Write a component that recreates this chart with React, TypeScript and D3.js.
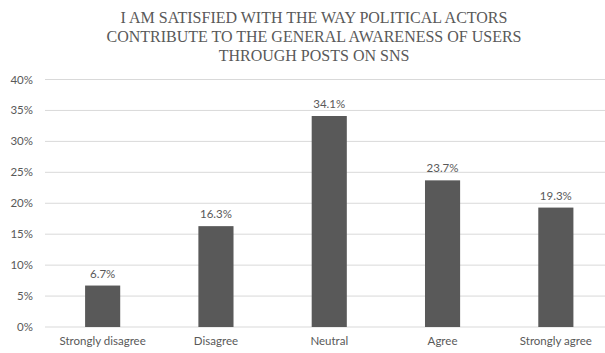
import React from "react";
import * as d3 from "d3";

const categories = ["Strongly disagree", "Disagree", "Neutral", "Agree", "Strongly agree"];
const values = [6.7, 16.3, 34.1, 23.7, 19.3];
const yTicks = [0, 5, 10, 15, 20, 25, 30, 35, 40];
const titleLines = [
  "I AM SATISFIED WITH THE WAY POLITICAL ACTORS",
  "CONTRIBUTE TO THE GENERAL AWARENESS OF USERS",
  "THROUGH POSTS ON SNS",
];

const W = 605;
const H = 353;
const plotLeft = 46;
const plotRight = 612.5;
const plotTop = 79.5;
const plotBottom = 327;

const textColor = "#595959";
const barColor = "#595959";
const gridColor = "#d9d9d9";
const labelFont = "Lato, 'Open Sans', sans-serif";

export default function App() {
  const x = d3
    .scaleBand<string>()
    .domain(categories)
    .range([plotLeft, plotRight])
    .paddingInner(0.69)
    .paddingOuter(0.345);
  const y = d3.scaleLinear().domain([0, 40]).range([plotBottom, plotTop]);

  return (
    <svg
      width={W}
      height={H}
      style={{ position: "absolute", left: 0, top: 0, background: "#fff" }}
    >
      <rect width={W} height={H} fill="#fff" />
      {titleLines.map((t, i) => (
        <text
          key={i}
          x={314}
          y={22.5 + i * 19}
          textAnchor="middle"
          fontFamily="'Liberation Serif', 'Times New Roman', serif"
          fontSize={16}
          fill={textColor}
        >
          {t}
        </text>
      ))}
      {yTicks.map((t) => (
        <g key={t}>
          <line
            x1={plotLeft - 1}
            x2={W}
            y1={y(t)}
            y2={y(t)}
            stroke={gridColor}
            strokeWidth={1}
          />
          <text
            x={33}
            y={y(t) + 4}
            textAnchor="end"
            fontFamily={labelFont}
            fontSize={11.5}
            fill={textColor}
          >
            {t}%
          </text>
        </g>
      ))}
      {categories.map((c, i) => {
        const bx = x(c)!;
        const bw = x.bandwidth();
        const v = values[i];
        return (
          <g key={c}>
            <rect x={bx} y={y(v)} width={bw} height={plotBottom - y(v)} fill={barColor} />
            <text
              x={bx + bw / 2}
              y={y(v) - 8}
              textAnchor="middle"
              fontFamily={labelFont}
              fontSize={11.5}
              fill={textColor}
            >
              {v.toFixed(1)}%
            </text>
            <text
              x={bx + bw / 2}
              y={345}
              textAnchor="middle"
              fontFamily={labelFont}
              fontSize={11.5}
              fill={textColor}
            >
              {c}
            </text>
          </g>
        );
      })}
    </svg>
  );
}
